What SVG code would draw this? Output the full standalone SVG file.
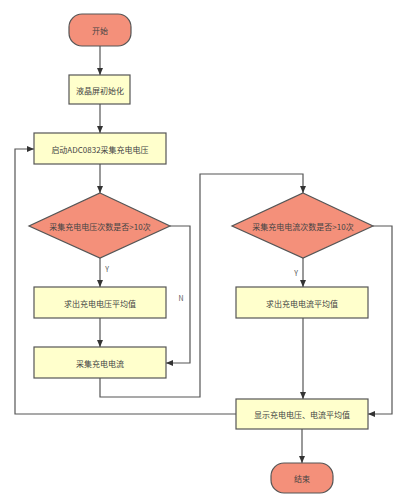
<svg xmlns="http://www.w3.org/2000/svg" width="400" height="504" viewBox="0 0 400 504">
<style>
.term{fill:#F4907A;stroke:#555;stroke-width:1.2}
.box{fill:#FFFFCC;stroke:#555;stroke-width:1.2}
.dia{fill:#F4907A;stroke:#555;stroke-width:1.2}
text{font-family:"Noto Sans CJK SC","Liberation Sans",sans-serif;font-size:8px;fill:#444;text-anchor:middle;dominant-baseline:central}
.lbl{font-size:7px;fill:#555}
.edge{fill:none;stroke:#555;stroke-width:1.2;marker-end:url(#ah)}
.line{fill:none;stroke:#555;stroke-width:1.2}
</style>
<defs>
<marker id="ah" markerWidth="8" markerHeight="8" refX="7" refY="4" orient="auto" markerUnits="userSpaceOnUse">
<path d="M0,1 L7,4 L0,7 Z" fill="#333"/>
</marker>
</defs>
<rect width="400" height="504" fill="#fff"/>
<g id="connectors">
<path class="edge" d="M100,46 V75"/>
<path class="edge" d="M100,104 V133"/>
<path class="edge" d="M100,164 V193"/>
<path class="edge" d="M100,258 V287"/>
<path class="edge" d="M100,318 V347"/>
<path class="edge" d="M170,226 H190 V363 H166"/>
<path class="edge" d="M100,378 V397 H200 V174 H303 V193"/>
<path class="edge" d="M303,258 V287"/>
<path class="edge" d="M303,318 V399"/>
<path class="edge" d="M373,226 H392 V414 H368"/>
<path class="edge" d="M236,414 H15 V149 H34"/>
<path class="edge" d="M302,429 V463"/>
<text class="lbl" x="107" y="269">Y</text>
<text class="lbl" x="181" y="298">N</text>
<text class="lbl" x="296" y="273">Y</text>
</g>
<g id="start">
<rect class="term" x="69" y="14" width="62" height="32" rx="13"/>
<text x="100" y="30">开始</text>
</g>
<g id="lcd-init">
<rect class="box" x="69" y="75" width="61" height="29"/>
<text x="100" y="90">液晶屏初始化</text>
</g>
<g id="adc-start">
<rect class="box" x="34" y="133" width="132" height="31"/>
<text x="100" y="149">启动ADC0832采集充电电压</text>
</g>
<g id="dec-voltage">
<polygon class="dia" points="100,193 170,226 100,258 29,226"/>
<text x="100" y="226">采集充电电压次数是否&gt;10次</text>
</g>
<g id="avg-voltage">
<rect class="box" x="34" y="287" width="132" height="31"/>
<text x="100" y="303">求出充电电压平均值</text>
</g>
<g id="collect-current">
<rect class="box" x="34" y="347" width="132" height="31"/>
<text x="100" y="363">采集充电电流</text>
</g>
<g id="dec-current">
<polygon class="dia" points="303,193 373,226 303,258 232,226"/>
<text x="303" y="226">采集充电电流次数是否&gt;10次</text>
</g>
<g id="avg-current">
<rect class="box" x="236" y="287" width="132" height="31"/>
<text x="302" y="303">求出充电电流平均值</text>
</g>
<g id="display">
<rect class="box" x="236" y="399" width="132" height="30"/>
<text x="302" y="414">显示充电电压、电流平均值</text>
</g>
<g id="end">
<rect class="term" x="271" y="463" width="62" height="30" rx="13"/>
<text x="302" y="478">结束</text>
</g>
</svg>
